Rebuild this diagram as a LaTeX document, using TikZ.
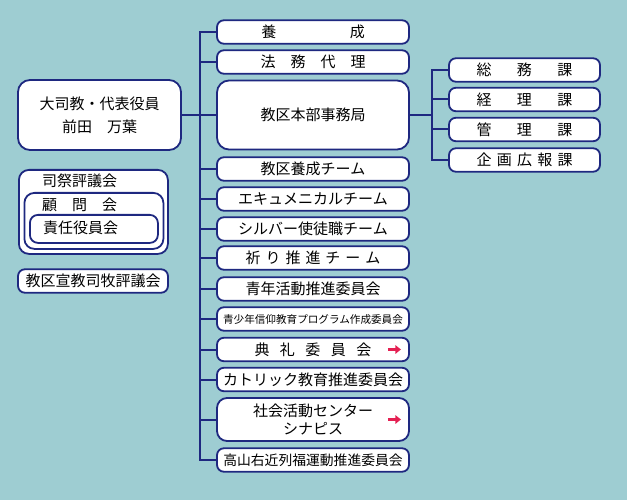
\documentclass[tikz,border=0pt]{standalone}
\definecolor{linenavy}{RGB}{30,40,128}
\definecolor{paperteal}{RGB}{158,205,210}
\definecolor{arrowred}{RGB}{228,32,82}
\usepackage{fontspec}
\usepackage{tikz}
\usetikzlibrary{shapes,arrows,arrows.meta,positioning,calc}
\newfontfamily\jpfont{Noto Sans CJK JP}

\tikzset{
  unit/.style={draw=linenavy, line width=1.8pt, fill=white, rounded corners=7pt,
               minimum width=192pt, minimum height=23.5pt, inner sep=1pt,
               font=\jpfont\fontsize{15}{18}\selectfont},
  section/.style={unit, minimum width=151pt},
  frame/.style={draw=linenavy, line width=1.8pt, fill=white, rounded corners=10pt},
  caption/.style={anchor=west, inner sep=0pt, font=\jpfont\fontsize{15}{18}\selectfont},
  conn/.style={draw=linenavy, line width=2pt},
  redarrow/.style={draw=arrowred, line width=2.8pt, -{Triangle[length=5.5pt, width=8.5pt]}}
}

\begin{document}
\begin{tikzpicture}[x=1pt, y=-1pt]
                    \useasboundingbox (0,0) rectangle (627,500);
                    \fill[paperteal] (0,0) rectangle (627,500);
                    
                    % left side
                    \node[frame, minimum width=163pt, minimum height=70pt, rounded corners=12pt,
                          align=center, font=\jpfont\fontsize{15}{23}\selectfont] (archbishop) at (99.5,115)
                          {大司教・代表役員\\前田　万葉};
                    \node[frame, minimum width=149pt, minimum height=84pt, anchor=north west] (shisai) at (18,169) {};
                    \node[frame, minimum width=139pt, minimum height=56pt, anchor=north west] (komon) at (23.5,192) {};
                    \node[frame, minimum width=128pt, minimum height=28pt, anchor=north west, rounded corners=8pt] (sekinin) at (29,214) {};
                    \node[caption] (shisai-text) at (42,181) {司祭評議会};
                    \node[caption] (komon-text) at (42,205) {顧　問　会};
                    \node[caption] (sekinin-text) at (43,228) {責任役員会};
                    \node[unit, minimum width=150pt] (senkyo) at (93,281) {教区宣教司牧評議会};
                    
                    % middle column
                    \node[unit] (yosei) at (313,32) {養\hspace{4.9em}成};
                    \node[unit] (homu) at (313,62) {法　務　代　理};
                    \node[unit, minimum height=69pt, rounded corners=12pt] (jimukyoku) at (313,115) {教区本部事務局};
                    \node[unit] (kyokuyosei) at (313,169) {教区養成チーム};
                    \node[unit] (ecumenical) at (313,199) {エキュメニカルチーム};
                    \node[unit] (silver) at (313,229) {シルバー使徒職チーム};
                    \node[unit] (inori) at (313,258) {祈\hspace{0.33em}り\hspace{0.33em}推\hspace{0.33em}進\hspace{0.33em}チ\hspace{0.33em}ー\hspace{0.33em}ム};
                    \node[unit] (seinen) at (313,289) {青年活動推進委員会};
                    \node[unit, font=\jpfont\fontsize{10.6}{12}\selectfont] (seishonen) at (313,319) {青少年信仰教育プログラム作成委員会};
                    \node[unit] (tenrei) at (313,349.5) {典\hspace{0.7em}礼\hspace{0.7em}委\hspace{0.7em}員\hspace{0.7em}会};
                    \node[unit] (catholic) at (313,379.5) {カトリック教育推進委員会};
                    \node[unit, minimum height=43pt, rounded corners=10pt, align=center] (shakai) at (313,419.5) {社会活動センター\\シナピス};
                    \node[unit, font=\jpfont\fontsize{13.8}{16}\selectfont] (takayama) at (313,460) {高山右近列福運動推進委員会};
                    \coordinate (tenrei-arrow) at ([xshift=-15.5pt]tenrei.east);
                    \coordinate (shakai-arrow) at ([xshift=-15.5pt]shakai.east);
                    \draw[redarrow] ([xshift=-6.5pt]tenrei-arrow) -- ([xshift=6.5pt]tenrei-arrow);
                    \draw[redarrow] ([xshift=-6.5pt]shakai-arrow) -- ([xshift=6.5pt]shakai-arrow);
                    
                    % right column
                    \node[section] (somu) at (524.5,70) {総\hspace{1.7em}務\hspace{1.7em}課};
                    \node[section] (keiri) at (524.5,99.5) {経\hspace{1.7em}理\hspace{1.7em}課};
                    \node[section] (kanri) at (524.5,129.5) {管\hspace{1.7em}理\hspace{1.7em}課};
                    \node[section] (kikaku) at (524.5,160) {企\hspace{0.35em}画\hspace{0.35em}広\hspace{0.35em}報\hspace{0.35em}課};
                    
                    \coordinate (trunk) at (200,0);
                    \coordinate (branch) at (432,0);
                    
                    \draw[conn] (archbishop.east) -- (archbishop.east -| trunk);
                    \draw[conn] (yosei.west) -| (trunk |- takayama.west) -- (takayama.west);
                    \foreach \n in {homu,jimukyoku,kyokuyosei,ecumenical,silver,inori,seinen,seishonen,tenrei,catholic,shakai}
                        \draw[conn] (\n.west) -- (\n.west -| trunk);
                    
                    \draw[conn] (jimukyoku.east) -- (jimukyoku.east -| branch);
                    \draw[conn] (somu.west) -| (branch |- kikaku.west) -- (kikaku.west);
                    \draw[conn] (keiri.west) -- (keiri.west -| branch);
                    \draw[conn] (kanri.west) -- (kanri.west -| branch);
                \end{tikzpicture}
\end{document}
